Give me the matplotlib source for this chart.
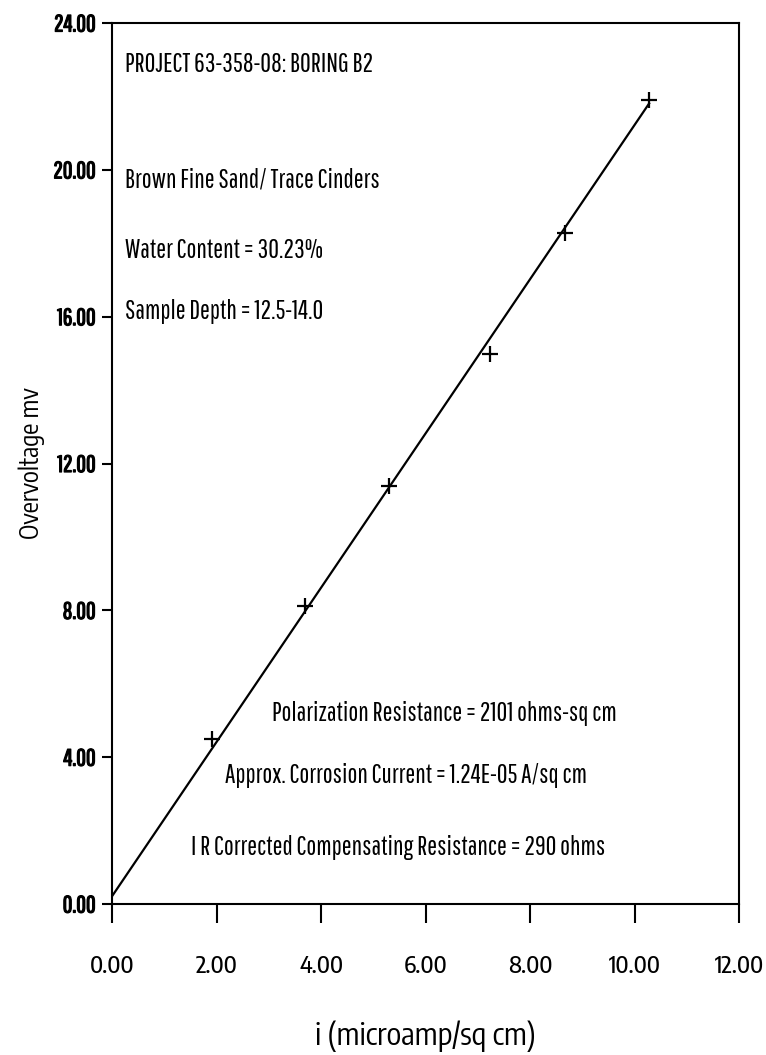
import numpy as np
import matplotlib
matplotlib.use("Agg")
from matplotlib import pyplot as plt
from matplotlib import patheffects

narrow = ['Pathway Gothic One', 'DejaVu Sans']
rounded = ['Encode Sans Condensed', 'DejaVu Sans']
plt.rcParams['font.family'] = narrow

# measured points: current density vs overvoltage
current = [1.91, 3.69, 5.30, 7.23, 8.67, 10.28]
overvoltage = [4.50, 8.13, 11.38, 14.98, 18.28, 21.90]

# fitted line: slope from polarization resistance (ohms-sq cm -> mV per microamp/sq cm)
polarization_resistance = 2101
intercept = 0.21

x_ticks = [0, 2, 4, 6, 8, 10, 12]
y_ticks = [0, 4, 8, 12, 16, 20, 24]

header_lines = [
    "PROJECT 63-358-08: BORING B2",
    "Brown Fine Sand/ Trace Cinders",
    "Water Content = 30.23%",
    "Sample Depth = 12.5-14.0",
]
result_lines = [
    "Polarization Resistance = 2101 ohms-sq cm",
    "Approx. Corrosion Current = 1.24E-05 A/sq cm",
    "I R Corrected Compensating Resistance = 290 ohms",
]

fig = plt.figure(figsize=(7.66, 10.55), dpi=100)
ax = fig.add_axes([112 / 766, 1 - 904 / 1055, 627 / 766, 881 / 1055])

slope = polarization_resistance / 1000
fit_x = np.array([0, current[-1]])
ax.plot(fit_x, intercept + slope * fit_x, color='black', lw=1.6)
ax.plot(current, overvoltage, linestyle='none', marker='+', color='black',
        markersize=12, mew=1.6)

ax.set_xlim(0, 12)
ax.set_ylim(0, 24)
ax.set_xticks(x_ticks)
ax.set_yticks(y_ticks)
ax.set_xticklabels([f"{v:.2f}" for v in x_ticks], fontsize=17, family=rounded,
                   fontweight='medium')
bold = [patheffects.withStroke(linewidth=0.9, foreground='black')]
ax.set_yticklabels([f"{v:.2f}" for v in y_ticks], fontsize=17, path_effects=bold)
ax.tick_params(axis='x', direction='out', length=14, width=1.5, pad=22)
ax.tick_params(axis='y', direction='out', length=7, width=1.5, pad=5)
for side in ax.spines.values():
    side.set_linewidth(1.5)

ax.set_xlabel("i (microamp/sq cm)", fontsize=22, family=rounded, labelpad=30)
ax.set_ylabel("Overvoltage mv", fontsize=18, family=rounded, labelpad=6)

# text block in the upper left
header_y = [22.88, 19.73, 17.8, 16.14]
for line, y in zip(header_lines, header_y):
    ax.text(0.25, y, line, fontsize=19, va='center', ha='left')

# results block in the lower right
result_x = [3.06, 2.16, 1.51]
result_y = [5.2, 3.51, 1.55]
for line, x, y in zip(result_lines, result_x, result_y):
    ax.text(x, y, line, fontsize=19, va='center', ha='left')

fig.savefig("out.png", dpi=100)
